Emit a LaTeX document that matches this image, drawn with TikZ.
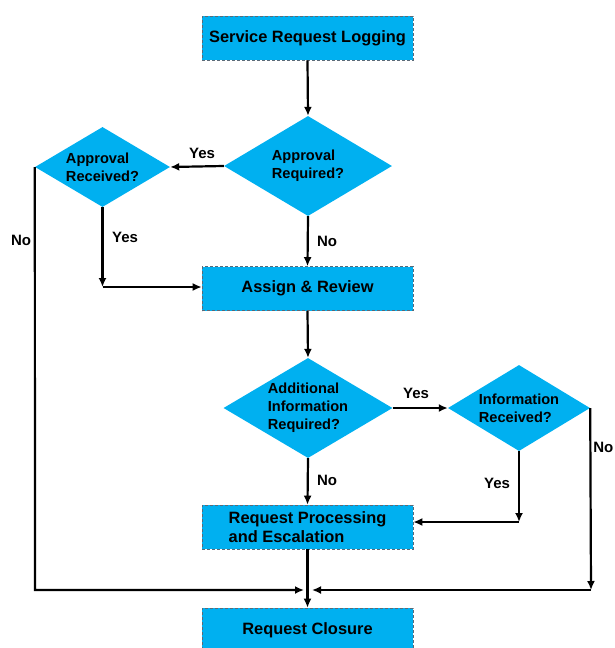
\documentclass[tikz,border=0pt]{standalone}
\usepackage{fontspec}
\setmainfont{Liberation Sans}
\usetikzlibrary{shapes.geometric,arrows.meta}
\definecolor{boxblue}{HTML}{00B0F0}
\definecolor{bordergray}{HTML}{5A6A78}
\begin{document}
\begin{tikzpicture}[x=1pt,y=-1pt,
  stepbox/.style={rectangle,fill=boxblue,draw=bordergray,densely dashed,line width=0.6pt,
    minimum width=211pt,minimum height=44pt,inner sep=0pt,
    font=\bfseries\fontsize{16.4}{19.5}\selectfont},
  dia/.style={diamond,fill=boxblue,draw=none,inner sep=0pt},
  dtext/.style={align=left,inner sep=0pt,font=\bfseries\fontsize{14.6}{18}\selectfont},
  lbl/.style={inner sep=0pt,font=\bfseries\fontsize{15}{18}\selectfont},
  arr/.style={line width=2.2pt,-{Latex[length=9pt,width=8pt]}},
  ln/.style={line width=2.2pt}
]
\useasboundingbox (0,0) rectangle (614,648);

% boxes
\node[stepbox] (slog) at (307.5,38) {Service Request Logging};
\node[stepbox] (assign) at (307.5,288.5) {Assign \& Review};
\node[stepbox,align=left] (rp) at (307.5,527) {Request Processing\\and Escalation};
\node[stepbox] (close) at (307.5,630) {Request Closure};

% diamonds
\node[dia,minimum width=168pt,minimum height=100pt] (d1) at (308,166) {};
\node[dtext] (t1) at (d1) {Approval\\Required?};
\node[dia,minimum width=135pt,minimum height=80pt] (d2) at (102.5,167) {};
\node[dtext] (t2) at (d2) {Approval\\Received?};
\node[dia,minimum width=169pt,minimum height=100pt] (d3) at (308,408) {};
\node[dtext] (t3) at (d3) {Additional\\Information\\Required?};
\node[dia,minimum width=142pt,minimum height=86pt] (d4) at (519,408) {};
\node[dtext] (t4) at (d4) {Information\\Received?};

% helper coordinates
\coordinate (c1) at (102.5,287);
\coordinate (c2) at (35,590);
\coordinate (c3) at (304,590);
\coordinate (c4) at (519,522);
\coordinate (c5) at (591,590);
\coordinate (c6) at (312,590);

% connectors
\draw[arr] (slog.south) -- (d1.north);
\draw[arr] (d1.west) -- (d2.east);
\draw[arr] (d2.south) -- (c1);
\draw[arr] (c1) -- (c1 -| assign.west);
\draw[arr] (d2.west) -- (c2) -- (c3);
\draw[arr] (d1.south) -- (assign.north);
\draw[arr] (assign.south) -- (d3.north);
\draw[arr] (d3.east) -- (d4.west);
\draw[arr] (d4.south) -- (c4);
\draw[arr] (c4) -- (c4 -| rp.east);
\draw[arr] (d4.east) -- (c5);
\draw[arr] (c5) -- (c6);
\draw[arr] (d3.south) -- (rp.north);
\draw[arr] (rp.south) -- (close.north);

% labels
\node[lbl] (y1) at (202,153) {Yes};
\node[lbl] (y2) at (125,237) {Yes};
\node[lbl] (n1) at (21,240) {No};
\node[lbl] (n2) at (327,241) {No};
\node[lbl] (y3) at (416,393) {Yes};
\node[lbl] (n3) at (327,480) {No};
\node[lbl] (y4) at (497,483) {Yes};
\node[lbl,anchor=east] (n4) at (613.5,447) {No};
\end{tikzpicture}
\end{document}
